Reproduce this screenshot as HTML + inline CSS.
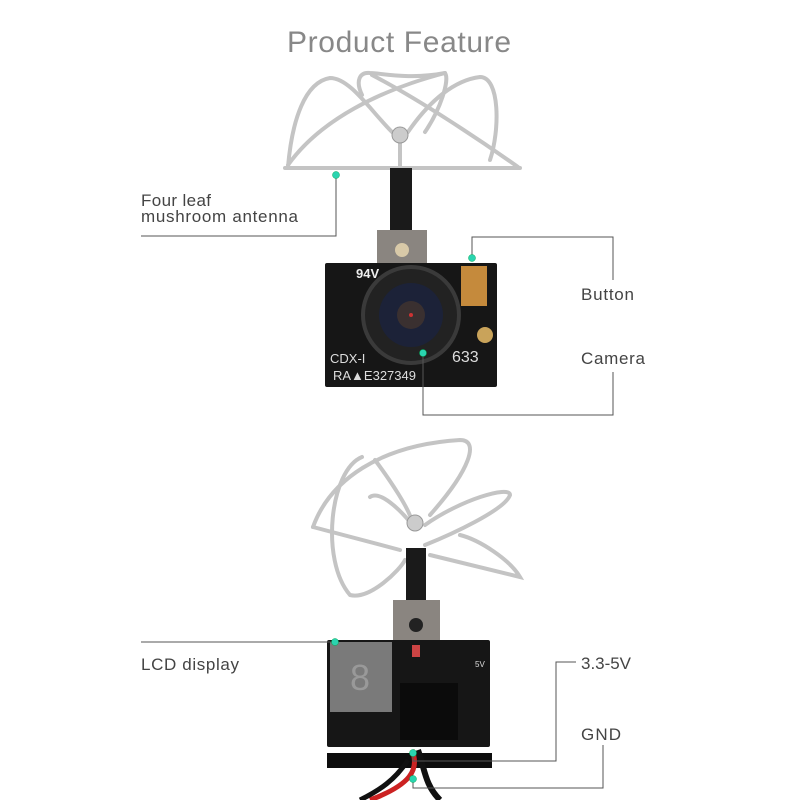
<!DOCTYPE html>
<html><head><style>
html,body{margin:0;padding:0;background:#fff;}
svg{display:block}
text{font-family:"Liberation Sans",sans-serif;fill:#444}
</style></head><body>
<svg width="800" height="800" viewBox="0 0 800 800">
<text x="399" y="52" text-anchor="middle" font-size="30" textLength="224" style="fill:#888">Product Feature</text>

<!-- upper antenna -->
<g fill="none" stroke="#c4c4c4" stroke-width="4" stroke-linecap="round" stroke-linejoin="round">
<path d="M288 167 C292 120 305 82 330 78 C350 78 370 110 392 132"/>
<path d="M288 165 C320 120 380 90 445 73 C450 80 440 110 425 132"/>
<path d="M362 95 C355 80 360 72 370 73 C380 73 410 80 445 73"/>
<path d="M408 132 C430 100 455 80 480 77 C500 77 500 130 490 160"/>
<path d="M372 75 C420 100 480 140 518 167"/>
<path d="M285 168 L520 168"/>
<path d="M400 140 L400 166"/>
</g>
<circle cx="400" cy="135" r="8" fill="#ccc" stroke="#999"/>
<rect x="390" y="168" width="22" height="67" fill="#1a1a1a"/>
<rect x="377" y="230" width="50" height="35" fill="#8a8580"/>
<circle cx="402" cy="250" r="7" fill="#d8c9a8"/>
<!-- upper board -->
<rect x="325" y="263" width="172" height="124" fill="#161616" rx="2"/>
<rect x="461" y="266" width="26" height="40" fill="#c58a3c"/>
<circle cx="485" cy="335" r="8" fill="#c9a35a"/>
<circle cx="411" cy="315" r="48" fill="#222" stroke="#3a3a3a" stroke-width="4"/>
<circle cx="411" cy="315" r="32" fill="#1c2238"/>
<circle cx="411" cy="315" r="14" fill="#3a3030"/>
<circle cx="411" cy="315" r="2" fill="#c33"/>
<text x="356" y="278" font-size="13" font-family="Liberation Mono" style="fill:#eee;font-weight:bold">94V</text>
<text x="330" y="363" font-size="13" font-family="Liberation Mono" style="fill:#ddd">CDX-I</text>
<text x="333" y="380" font-size="13" font-family="Liberation Mono" style="fill:#ddd">RA▲E327349</text>
<text x="452" y="362" font-size="16" font-family="Liberation Mono" style="fill:#ddd">633</text>

<!-- lower antenna -->
<g fill="none" stroke="#c4c4c4" stroke-width="4" stroke-linecap="round">
<path d="M313 527 C330 480 380 445 460 440 C480 440 470 470 430 515"/>
<path d="M362 457 C330 470 320 560 350 595 C370 600 400 570 405 560"/>
<path d="M313 527 L400 550"/>
<path d="M430 555 L520 577 C510 560 480 540 460 535"/>
<path d="M370 497 C380 490 400 510 410 522"/>
<path d="M425 525 C460 500 510 485 510 495 C505 510 450 535 425 545"/>
<path d="M375 460 C390 480 410 510 412 522"/>
</g>
<circle cx="415" cy="523" r="8" fill="#ccc" stroke="#999"/>
<rect x="406" y="548" width="20" height="62" fill="#1a1a1a"/>
<rect x="393" y="600" width="47" height="42" fill="#8a8580"/>
<circle cx="416" cy="625" r="7" fill="#222"/>
<!-- lower board -->
<rect x="327" y="753" width="165" height="15" fill="#0d0d0d"/>
<rect x="327" y="640" width="163" height="107" fill="#161616" rx="2"/>
<rect x="330" y="642" width="62" height="70" fill="#7a7a7a"/>
<text x="350" y="690" font-size="36" font-family="Liberation Mono" style="fill:#999">8</text>
<rect x="400" y="683" width="58" height="57" fill="#0b0b0b"/>
<text x="475" y="667" font-size="8" style="fill:#ddd">5V</text>
<rect x="412" y="645" width="8" height="12" fill="#c44"/>
<!-- wires -->
<path d="M412 750 C420 770 410 785 370 800" stroke="#c22" stroke-width="5" fill="none"/>
<path d="M418 750 C425 770 425 785 440 800" stroke="#111" stroke-width="6" fill="none"/>
<path d="M408 760 C395 780 380 790 360 800" stroke="#111" stroke-width="5" fill="none"/>

<!-- callouts -->
<g fill="none" stroke="#555" stroke-width="1">
<path d="M141 236 H336 V175"/>
<path d="M472 258 V237 H613 V280"/>
<path d="M423 353 V415 H613 V372"/>
<path d="M141 642 H335"/>
<path d="M576 662 H556 V761 H413 V753"/>
<path d="M413 779 V788 H603 V745"/>
</g>
<g fill="#2ad4b0" stroke="#0a5" stroke-width="0.5">
<circle cx="336" cy="175" r="3.5"/><circle cx="472" cy="258" r="3.5"/>
<circle cx="423" cy="353" r="3.5"/><circle cx="335" cy="642" r="3.5"/>
<circle cx="413" cy="753" r="3.5"/><circle cx="413" cy="779" r="3.5"/>
</g>
<g font-size="17">
<text x="141" y="206" textLength="70">Four leaf</text>
<text x="141" y="222" textLength="157">mushroom antenna</text>
<text x="581" y="300" textLength="53">Button</text>
<text x="581" y="364" textLength="64">Camera</text>
<text x="141" y="670" textLength="98">LCD display</text>
<text x="581" y="669" textLength="50">3.3-5V</text>
<text x="581" y="740" textLength="40">GND</text>
</g>
</svg>
</body></html>
